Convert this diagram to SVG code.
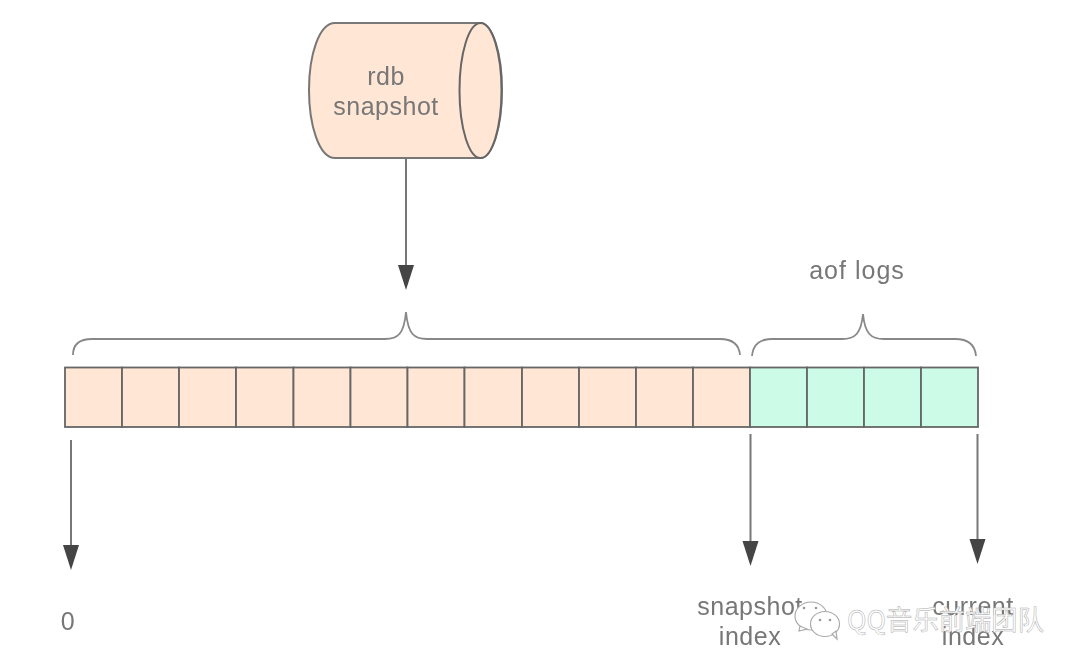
<svg xmlns="http://www.w3.org/2000/svg" width="1080" height="671" viewBox="0 0 1080 671">
<defs>
<marker id="ah" markerUnits="userSpaceOnUse" markerWidth="26" markerHeight="18" refX="15" refY="8.500" orient="auto" viewBox="0 0 26 18"><path d="M0 0.500L25 8.500L0 16.500Z" fill="#444"/></marker>
<filter id="soft" x="-5%" y="-5%" width="110%" height="110%"><feGaussianBlur stdDeviation="0.7"/></filter>
</defs>
<style>
text{font-family:"Liberation Sans",Arial,sans-serif;font-size:25px;letter-spacing:.5px;fill:#777;text-anchor:middle}
.c{stroke:#666;stroke-width:1.8}
.o{fill:#ffe6d5}
.g{fill:#ccfbe8}
.b{fill:none;stroke:#888;stroke-width:1.8}
.l{stroke:#777;stroke-width:2;fill:none}
.s{filter:url(#soft)}
.w{font-family:"Noto Sans CJK SC","Liberation Sans",sans-serif;font-size:27px;letter-spacing:0;fill:#fff;stroke:#aaa;stroke-width:.5;text-anchor:start}
.i{fill:#fff;stroke:#aaa;stroke-width:1.2}
</style>
<rect width="1080" height="671" fill="#fff"/>
<g id="connectors" class="s">
<path class="l" d="M406 158V280" marker-end="url(#ah)"/>
<path class="l" d="M71 440V560" marker-end="url(#ah)"/>
<path class="l" d="M750.500 434V556" marker-end="url(#ah)"/>
<path class="l" d="M977.500 434V554" marker-end="url(#ah)"/>
</g>
<g id="rdb-snapshot" class="s">
<path class="o" d="M335 23H480C493 23 502 55 502 90C502 125 493 158 480 158H335C319 158 309 125 309 90C309 55 319 23 335 23Z" stroke="#777" stroke-width="2"/>
<ellipse class="o" cx="480.500" cy="90.500" rx="21" ry="67.500" stroke="#666" stroke-width="2"/>
<text x="386" y="85">rdb</text>
<text x="386" y="115">snapshot</text>
</g>
<g id="brace-snapshot" class="s"><path class="b" d="M73 355C73 344 80 339 92 339H385C398 339 404 334 406 312C408 334 414 339 427 339H720C732 339 739 344 740 355"/></g>
<g id="brace-aof" class="s"><path class="b" d="M752 356C753 344 760 339 772 339H842C855 339 861 334 863 314C865 334 871 339 884 339H955C967 339 975 344 976 356"/></g>
<g id="aof-label" class="s"><text x="857" y="279" style="letter-spacing:1px">aof logs</text></g>
<g id="snapshot-cells" class="s">
<rect class="c o" x="65" y="367.500" width="57" height="59.500"/>
<rect class="c o" x="122" y="367.500" width="57" height="59.500"/>
<rect class="c o" x="179" y="367.500" width="57" height="59.500"/>
<rect class="c o" x="236" y="367.500" width="57.500" height="59.500"/>
<rect class="c o" x="293.500" y="367.500" width="57" height="59.500"/>
<rect class="c o" x="350.500" y="367.500" width="57" height="59.500"/>
<rect class="c o" x="407.500" y="367.500" width="57" height="59.500"/>
<rect class="c o" x="464.500" y="367.500" width="57.500" height="59.500"/>
<rect class="c o" x="522" y="367.500" width="57" height="59.500"/>
<rect class="c o" x="579" y="367.500" width="57" height="59.500"/>
<rect class="c o" x="636" y="367.500" width="57" height="59.500"/>
<rect class="c o" x="693" y="367.500" width="57" height="59.500"/>
</g>
<g id="aof-cells" class="s">
<rect class="c g" x="750" y="367.500" width="57" height="59.500"/>
<rect class="c g" x="807" y="367.500" width="57" height="59.500"/>
<rect class="c g" x="864" y="367.500" width="57" height="59.500"/>
<rect class="c g" x="921" y="367.500" width="57" height="59.500"/>
</g>
<g id="label-zero" class="s"><text x="68" y="630">0</text></g>
<g id="label-snapshot-index" class="s"><text x="750" y="615">snapshot</text><text x="750" y="645">index</text></g>
<g id="label-current-index" class="s"><text x="973" y="615">current</text><text x="973" y="645">index</text></g>
<g id="watermark">
<ellipse class="i" cx="811" cy="616" rx="16" ry="14"/>
<path class="i" d="M800 626L799 631L807 629Z"/>
<ellipse class="i" cx="825" cy="624" rx="14.500" ry="12.500"/>
<path class="i" d="M832 634L837 639L836 631Z"/>
<circle cx="804" cy="608" r="1.300" fill="#999"/><circle cx="816" cy="608" r="1.300" fill="#999"/>
<circle cx="820" cy="620" r="1.300" fill="#999"/><circle cx="830" cy="620" r="1.300" fill="#999"/>
<text class="w" x="847" y="630" textLength="197" lengthAdjust="spacingAndGlyphs">QQ音乐前端团队</text>
</g>
</svg>
